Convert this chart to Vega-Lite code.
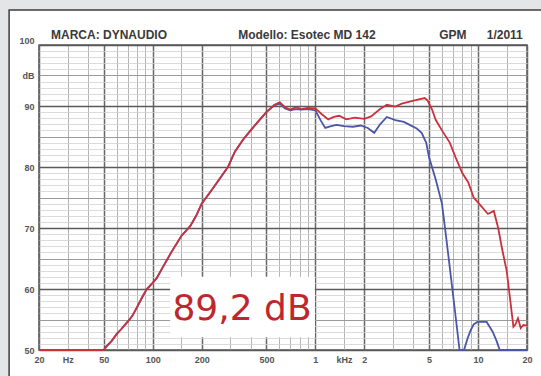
{
  "$schema": "https://vega.github.io/schema/vega-lite/v6.json",
  "width": 488,
  "height": 305,
  "autosize": "none",
  "padding": {"left": 39, "top": 45, "right": 14, "bottom": 26},
  "background": "#ffffff",
  "config": {"view": {"stroke": "#555555", "strokeWidth": 1.5}},
  "datasets": {
    "margins": [
      {"f": 1, "f2": 13.1, "db": -100, "db2": 300},
      {"f": 1, "f2": 1000000, "db": 105.74, "db2": 300}
    ],
    "card": [
      {"f": 13.1, "f2": 1000000, "db": 105.74, "db2": -100}
    ],
    "box": [
      {"f": 128, "f2": 993, "db": 62, "db2": 52.1}
    ],
    "red": [
      {"f": 20, "db": 50}, {"f": 50, "db": 50}, {"f": 52, "db": 50.6}, {"f": 56, "db": 51.5}, {"f": 60, "db": 52.6}, {"f": 64, "db": 53.4}, {"f": 70, "db": 54.6}, {"f": 75, "db": 55.6}, {"f": 80, "db": 57}, {"f": 86, "db": 58.6}, {"f": 92, "db": 60}, {"f": 100, "db": 61}, {"f": 106, "db": 61.8}, {"f": 115, "db": 63.5}, {"f": 130, "db": 66}, {"f": 150, "db": 68.7}, {"f": 170, "db": 70.3}, {"f": 185, "db": 72}, {"f": 200, "db": 74}, {"f": 230, "db": 76.2}, {"f": 260, "db": 78.2}, {"f": 290, "db": 80}, {"f": 320, "db": 82.5}, {"f": 360, "db": 84.5}, {"f": 400, "db": 86}, {"f": 450, "db": 87.6}, {"f": 500, "db": 89}, {"f": 560, "db": 90.2}, {"f": 605, "db": 90.6}, {"f": 650, "db": 89.8}, {"f": 700, "db": 89.4}, {"f": 760, "db": 89.8}, {"f": 820, "db": 89.5}, {"f": 900, "db": 89.7}, {"f": 1000, "db": 89.6}, {"f": 1100, "db": 88.6}, {"f": 1200, "db": 87.8}, {"f": 1300, "db": 88.2}, {"f": 1400, "db": 88.4}, {"f": 1550, "db": 87.8}, {"f": 1750, "db": 88.1}, {"f": 2000, "db": 87.9}, {"f": 2200, "db": 88.3}, {"f": 2500, "db": 89.5}, {"f": 2750, "db": 90.2}, {"f": 3100, "db": 89.9}, {"f": 3400, "db": 90.4}, {"f": 3800, "db": 90.7}, {"f": 4200, "db": 91}, {"f": 4700, "db": 91.3}, {"f": 4900, "db": 90.9}, {"f": 5200, "db": 89.5}, {"f": 5500, "db": 87.7}, {"f": 6000, "db": 86}, {"f": 6700, "db": 84}, {"f": 7300, "db": 81.5}, {"f": 8000, "db": 79}, {"f": 8700, "db": 77.5}, {"f": 9400, "db": 75}, {"f": 10300, "db": 73.8}, {"f": 11500, "db": 72.3}, {"f": 12500, "db": 72.8}, {"f": 13300, "db": 70}, {"f": 14100, "db": 66.4}, {"f": 15000, "db": 63}, {"f": 15800, "db": 58}, {"f": 16500, "db": 53.8}, {"f": 17000, "db": 54.2}, {"f": 17600, "db": 55.2}, {"f": 18300, "db": 53.6}, {"f": 19000, "db": 54.1}, {"f": 20000, "db": 54}
    ],
    "blue": [
      {"f": 20, "db": 50}, {"f": 50, "db": 50}, {"f": 52, "db": 50.6}, {"f": 56, "db": 51.5}, {"f": 60, "db": 52.6}, {"f": 64, "db": 53.4}, {"f": 70, "db": 54.6}, {"f": 75, "db": 55.6}, {"f": 80, "db": 57}, {"f": 86, "db": 58.6}, {"f": 92, "db": 60}, {"f": 100, "db": 61}, {"f": 106, "db": 61.8}, {"f": 115, "db": 63.5}, {"f": 130, "db": 66}, {"f": 150, "db": 68.7}, {"f": 170, "db": 70.3}, {"f": 185, "db": 72}, {"f": 200, "db": 74}, {"f": 230, "db": 76.2}, {"f": 260, "db": 78.2}, {"f": 290, "db": 80}, {"f": 320, "db": 82.5}, {"f": 360, "db": 84.5}, {"f": 400, "db": 86}, {"f": 450, "db": 87.6}, {"f": 500, "db": 89}, {"f": 560, "db": 90.1}, {"f": 605, "db": 90.4}, {"f": 650, "db": 89.6}, {"f": 700, "db": 89.3}, {"f": 760, "db": 89.5}, {"f": 820, "db": 89.4}, {"f": 900, "db": 89.5}, {"f": 1000, "db": 89.3}, {"f": 1080, "db": 87.6}, {"f": 1150, "db": 86.4}, {"f": 1250, "db": 86.7}, {"f": 1350, "db": 86.9}, {"f": 1500, "db": 86.7}, {"f": 1700, "db": 86.6}, {"f": 1900, "db": 86.8}, {"f": 2100, "db": 86.4}, {"f": 2300, "db": 85.6}, {"f": 2500, "db": 87}, {"f": 2750, "db": 88.2}, {"f": 3100, "db": 87.7}, {"f": 3500, "db": 87.4}, {"f": 3800, "db": 86.9}, {"f": 4200, "db": 86.3}, {"f": 4500, "db": 85.6}, {"f": 4800, "db": 84}, {"f": 5000, "db": 81.6}, {"f": 5500, "db": 77.9}, {"f": 6000, "db": 74}, {"f": 6400, "db": 68}, {"f": 6700, "db": 63.6}, {"f": 7200, "db": 56.6}, {"f": 7700, "db": 50}, {"f": 8200, "db": 50}, {"f": 8600, "db": 51.8}, {"f": 9000, "db": 53.2}, {"f": 9400, "db": 54.2}, {"f": 9900, "db": 54.6}, {"f": 11300, "db": 54.6}, {"f": 12300, "db": 53}, {"f": 13000, "db": 51.5}, {"f": 13600, "db": 50}, {"f": 20000, "db": 50}
    ],
    "big": [
      {"f": 354, "db": 54.9, "t": "89,2 dB"}
    ],
    "header": [
      {"f": 53.9, "db": 101.6, "t": "MARCA: DYNAUDIO"},
      {"f": 887, "db": 101.6, "t": "Modello: Esotec MD 142"},
      {"f": 7000, "db": 101.6, "t": "GPM"},
      {"f": 14600, "db": 101.6, "t": "1/2011"}
    ]
  },
  "encoding": {
    "x": {
      "field": "f",
      "type": "quantitative",
      "scale": {"type": "log", "domain": [20, 20000], "nice": false},
      "axis": {
        "title": null,
        "domain": false,
        "ticks": false,
        "values": [20, 30, 40, 50, 60, 70, 80, 90, 100, 150, 200, 300, 400, 500, 600, 700, 800, 900, 1000, 1500, 2000, 3000, 4000, 5000, 6000, 7000, 8000, 9000, 10000, 15000, 20000],
        "labelExpr": "datum.value == 20 ? '20' : datum.value == 30 ? 'Hz' : datum.value == 50 ? '50' : datum.value == 100 ? '100' : datum.value == 200 ? '200' : datum.value == 500 ? '500' : datum.value == 1000 ? '1' : datum.value == 1500 ? 'kHz' : datum.value == 2000 ? '2' : datum.value == 5000 ? '5' : datum.value == 10000 ? '10' : datum.value == 20000 ? '20' : ''",
        "labelFont": "Liberation Sans",
        "labelFontWeight": "bold",
        "labelFontSize": 9,
        "labelColor": "#555555",
        "labelPadding": 5,
        "labelOverlap": false,
        "labelFlush": false,
        "grid": true,
        "gridColor": {"condition": {"test": "indexof([20,50,100,200,500,1000,2000,5000,10000,20000], datum.value) >= 0", "value": "#666666"}, "value": "#b4b4b4"},
        "gridWidth": {"condition": {"test": "indexof([20,50,100,200,500,1000,2000,5000,10000,20000], datum.value) >= 0", "value": 1.5}, "value": 1},
        "gridOpacity": 1
      }
    },
    "y": {
      "field": "db",
      "type": "quantitative",
      "scale": {"domain": [50, 100], "nice": false, "zero": false},
      "axis": {
        "title": null,
        "domain": false,
        "ticks": false,
        "values": [50, 51, 52, 53, 54, 55, 56, 57, 58, 59, 60, 61, 62, 63, 64, 65, 66, 67, 68, 69, 70, 71, 72, 73, 74, 75, 76, 77, 78, 79, 80, 81, 82, 83, 84, 85, 86, 87, 88, 89, 90, 91, 92, 93, 94, 95, 96, 97, 98, 99, 100],
        "labelExpr": "datum.value == 95 ? 'dB' : (datum.value % 10 == 0 ? datum.label : '')",
        "labelFont": "Liberation Sans",
        "labelFontWeight": "bold",
        "labelFontSize": 9,
        "labelColor": "#555555",
        "labelPadding": 5,
        "labelOverlap": false,
        "labelFlush": false,
        "labelBaseline": {"condition": {"test": "datum.value == 100", "value": "bottom"}, "value": "middle"},
        "grid": true,
        "gridColor": {"condition": [{"test": "datum.value % 10 == 0", "value": "#5a5a5a"}, {"test": "datum.value % 5 == 0", "value": "#9a9a9a"}], "value": "#d2d2d2"},
        "gridWidth": {"condition": [{"test": "datum.value % 10 == 0", "value": 1.5}, {"test": "datum.value % 5 == 0", "value": 1}], "value": 0.8},
        "gridOpacity": 1
      }
    }
  },
  "layer": [
    {
      "data": {"name": "margins"},
      "mark": {"type": "rect", "fill": "#e4e5e7", "stroke": null},
      "encoding": {"x2": {"field": "f2"}, "y2": {"field": "db2"}}
    },
    {
      "data": {"name": "card"},
      "mark": {"type": "rect", "fill": null, "fillOpacity": 0, "stroke": "#3c3c3c", "strokeWidth": 1.5},
      "encoding": {"x2": {"field": "f2"}, "y2": {"field": "db2"}}
    },
    {
      "data": {"name": "box"},
      "mark": {"type": "rect", "fill": "#ffffff", "stroke": null},
      "encoding": {"x2": {"field": "f2"}, "y2": {"field": "db2"}}
    },
    {
      "data": {"name": "blue"},
      "mark": {"type": "line", "color": "#4b56a6", "strokeWidth": 1.8}
    },
    {
      "data": {"name": "red"},
      "mark": {"type": "line", "color": "#c9323c", "strokeWidth": 1.8}
    },
    {
      "data": {"name": "big"},
      "mark": {"type": "text", "font": "DejaVu Sans", "fontSize": 36, "color": "#c0262d", "align": "center", "baseline": "alphabetic"},
      "encoding": {"text": {"field": "t"}}
    },
    {
      "data": {"name": "header"},
      "mark": {"type": "text", "font": "Liberation Sans", "fontWeight": "bold", "fontSize": 12, "color": "#3a3a3a", "align": "center", "baseline": "middle"},
      "encoding": {"text": {"field": "t"}}
    }
  ]
}
